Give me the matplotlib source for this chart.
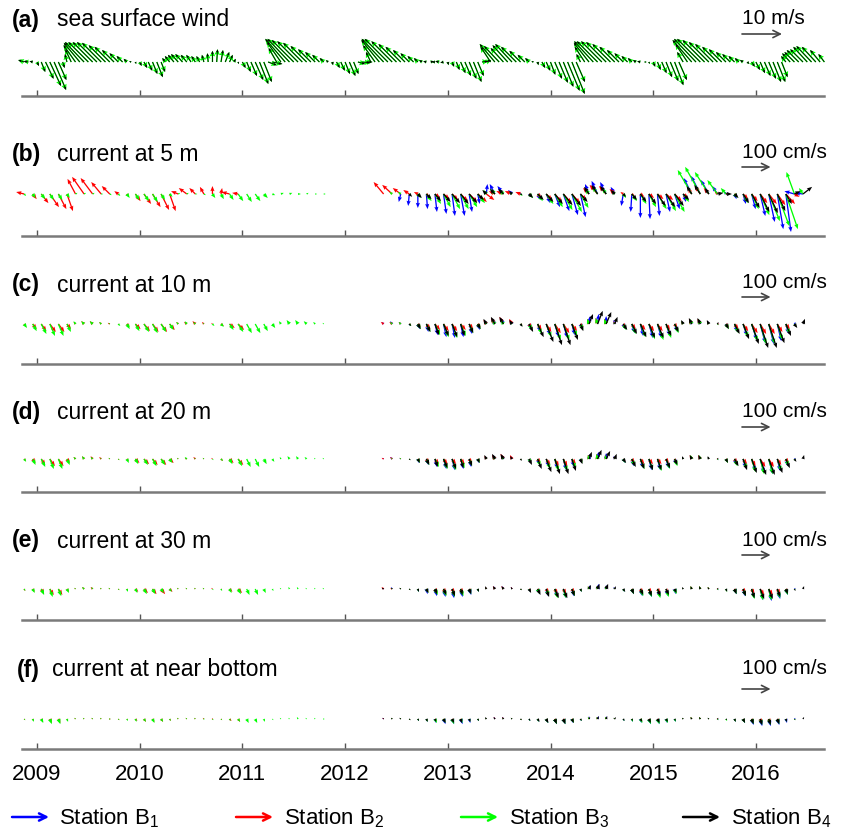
import numpy as np
import matplotlib
matplotlib.use('Agg')
import matplotlib.pyplot as plt

plt.rcParams['font.family'] = ['Liberation Sans', 'DejaVu Sans']
nan = np.nan

# ---------------- labels ----------------
years = [2009, 2010, 2011, 2012, 2013, 2014, 2015, 2016]
panel_tags = ['(a)', '(b)', '(c)', '(d)', '(e)', '(f)']
panel_titles = ['sea surface wind', 'current at 5 m', 'current at 10 m',
                'current at 20 m', 'current at 30 m', 'current at near bottom']
key_values = [10, 100, 100, 100, 100, 100]
key_labels = ['10 m/s', '100 cm/s', '100 cm/s', '100 cm/s', '100 cm/s', '100 cm/s']
station_names = [r'Station B$_{\mathregular{1}}$', r'Station B$_{\mathregular{2}}$',
                 r'Station B$_{\mathregular{3}}$', r'Station B$_{\mathregular{4}}$']
station_colors = ['#0000ff', '#ff0000', '#00ff00', '#000000']

# ---------------- sea surface wind (m/s), half-monthly from mid Nov 2008 ----------------
wind_uv = [
    (-1.5, 0.5), (-1.2, 0.2), (-0.8, 0.2), (0.5, -1.0), (1.0, -2.5), (2.0, -4.2), (2.8, -6.0), (3.0, -7.0),
    (2.0, -4.5), (0.5, -1.5), (-0.5, 2.0), (-1.5, 3.2), (-3.0, 4.2), (-4.0, 4.8), (-4.8, 5.0), (-5.0, 5.0),
    (-5.0, 5.0), (-5.0, 5.0), (-4.8, 4.8), (-4.2, 4.2), (-3.8, 3.8), (-3.0, 3.0), (-2.2, 2.2), (-1.5, 1.5),
    (-0.8, 0.8), (-0.5, 0.2), (0.2, -0.5), (0.5, -1.0), (0.8, -1.5), (1.0, -2.2), (1.2, -3.0), (1.5, -3.8),
    (1.0, -2.5), (-0.8, 1.0), (-1.2, 1.5), (-1.5, 1.8), (-1.8, 2.0), (-1.8, 2.0), (-1.5, 1.8), (-1.2, 1.8),
    (-1.0, 1.5), (-0.8, 1.5), (-0.5, 1.8), (-0.2, 2.2), (0.0, 2.8), (0.2, 3.2), (0.5, 3.0), (1.0, 2.5),
    (0.8, 1.8), (0.5, 0.8), (0.2, -0.5), (0.8, -1.5), (1.0, -2.5), (1.5, -3.5), (2.0, -4.5), (2.2, -5.5),
    (2.0, -5.0), (2.2, -0.8), (2.5, -0.5), (-2.0, 3.5), (-3.5, 5.0), (-5.0, 5.8), (-5.5, 5.8), (-5.5, 5.5),
    (-5.2, 5.2), (-4.8, 4.8), (-4.0, 4.0), (-3.2, 3.2), (-2.5, 2.5), (-1.8, 1.8), (-1.0, 1.0), (-0.5, 0.5),
    (0.2, -0.8), (0.8, -1.5), (1.0, -2.2), (1.2, -3.0), (1.5, -3.5), (1.2, -3.0), (1.8, -0.5), (2.0, -0.2),
    (1.5, 0.0), (-1.2, 2.5), (-3.0, 4.2), (-4.5, 5.5), (-5.5, 5.8), (-5.8, 5.8), (-5.2, 5.2), (-4.5, 4.5),
    (-3.8, 3.8), (-3.0, 3.0), (-2.2, 2.2), (-1.5, 1.5), (-1.0, 1.0), (-0.8, 0.5), (-0.8, 0.2), (0.8, 0.2),
    (-0.8, 0.0), (-1.0, 0.2), (-0.8, -0.2), (0.2, -0.8), (0.5, -1.2), (0.8, -2.0), (1.2, -2.8), (1.5, -3.5),
    (1.8, -4.2), (2.0, -5.0), (1.5, -3.5), (1.5, 0.2), (1.2, 0.5), (-2.5, 3.8), (-3.8, 4.5), (-3.8, 4.0),
    (-3.2, 3.5), (-3.8, 4.2), (-4.2, 4.5), (-3.8, 3.8), (-2.8, 2.8), (-1.8, 1.8), (-1.0, 1.0), (-0.5, 0.2),
    (0.2, -0.8), (0.8, -1.5), (1.0, -2.2), (1.2, -3.2), (1.8, -4.2), (2.2, -5.2), (2.5, -6.2), (3.0, -7.2),
    (3.2, -8.0), (2.2, -5.0), (-1.0, 2.0), (-2.5, 3.8), (-3.8, 4.8), (-4.8, 5.2), (-5.2, 5.2), (-5.2, 5.2),
    (-5.0, 5.0), (-4.5, 4.5), (-3.8, 3.8), (-3.0, 3.0), (-2.2, 2.2), (-1.5, 1.5), (-1.0, 1.0), (-0.8, 0.5),
    (-0.8, 0.2), (0.5, 0.0), (0.2, -0.5), (0.5, -1.2), (0.8, -2.0), (1.2, -2.8), (1.5, -3.8), (2.0, -4.8),
    (2.2, -5.8), (2.0, -4.5), (-1.5, 2.5), (-3.0, 4.5), (-4.8, 5.5), (-5.5, 5.8), (-5.8, 5.8), (-5.5, 5.5),
    (-5.0, 5.0), (-4.5, 4.5), (-3.8, 3.8), (-3.2, 3.2), (-2.5, 2.5), (-2.0, 2.0), (-1.5, 1.5), (-1.0, 1.0),
    (-0.8, 0.5), (0.5, -0.5), (0.8, -1.2), (1.0, -2.0), (1.2, -2.8), (1.5, -3.5), (1.8, -4.2), (2.0, -5.0),
    (2.0, -5.0), (1.5, -3.8), (-1.2, 1.5), (-2.0, 2.2), (-2.5, 2.5), (-3.0, 3.0), (-3.2, 3.2), (-3.5, 3.8),
    (-3.8, 4.0), (-3.5, 3.8), (-2.5, 3.0), (-1.5, 2.0),
]

# ---------------- currents (cm/s), monthly ----------------
# period 1: Nov 2008 onwards (B2, B3); period 2: May 2012 - Jul 2016 (B1..B4)

# 5 m
b2_5m_p1 = [(-28, 7), (14, -18), (25, -32), (32, -46), (28, -53), (21, -60), (-28, 53), (-42, 60), (-42, 56),
            (-35, 42), (-28, 28), (-14, 10), (7, -10), (18, -25), (25, -35), (28, -46), (28, -56), (21, -60),
            (-25, 10), (-28, 21), (-21, 21), (-14, 25), (0, 28), (4, 21), (-28, 7), (-21, 4)]
b3_5m_p1 = [(7, -7), (10, -14), (14, -18), (14, -21), (14, -21), (10, -14), (7, 4), (7, 4), (7, 4), (7, 0), (7, -4), (7, -7),
            (10, -14), (14, -21), (18, -25), (18, -28), (14, -21), (10, -10), (7, 4), (7, 4), (7, 0), (7, -4), (10, -14), (10, -18),
            (14, -21), (18, -25), (18, -28), (18, -25), (14, -14), (10, -4), (10, 4), (10, 4), (10, 0), (7, 4), (7, 0), (7, 0)]
b1_5m_p2 = [(nan, nan), (nan, nan), (-7, -28), (-4, -42), (0, -49), (4, -53), (7, -63), (10, -70), (10, -77), (14, -77), (10, -63), (7, -35),
            (4, 35), (-18, 35), (-21, 28), (-14, 14), (-7, 7), (4, -10), (10, -21), (14, -32), (18, -46), (21, -60), (21, -74), (18, -81),
            (-14, 35), (-21, 46), (-21, 42), (-14, 25), (-7, -42), (-4, -63), (0, -84), (4, -88), (7, -77), (14, -63), (18, -53), (10, -28),
            (-28, 56), (-32, 63), (-28, 49), (-18, 28), (-7, 10), (7, -18), (10, -35), (14, -53), (18, -77), (21, -98), (21, -123), (18, -133),
            (-35, 10), (-28, 4), (nan, nan)]
b2_5m_p2 = [(-35, 42), (-35, 32), (-28, 21), (-21, 14), (-14, 7), (10, -7), (18, -14), (21, -18), (21, -21), (25, -25), (28, -28), (32, -28),
            (28, -21), (-21, 10), (-25, 10), (-25, 10), (-18, 7), (10, -7), (14, -14), (21, -21), (25, -28), (28, -32), (28, -32), (21, -21),
            (-21, 21), (-28, 32), (-25, 28), (-18, 18), (-10, 7), (10, -7), (14, -10), (18, -14), (21, -18), (25, -21), (25, -25), (18, -14),
            (-14, 21), (-18, 28), (-18, 21), (-10, 10), (7, 4), (10, -7), (18, -18), (21, -25), (25, -32), (28, -35), (28, -39), (32, -35),
            (18, -10), (nan, nan), (nan, nan)]
b3_5m_p2 = [(nan, nan), (-10, 7), (-10, 7), (7, -7), (10, -14), (18, -25), (21, -35), (25, -46), (28, -53), (28, -53), (28, -46), (25, -32),
            (-10, 14), (-14, 18), (-14, 14), (-10, 7), (7, -7), (14, -14), (18, -25), (25, -35), (28, -46), (32, -56), (35, -63), (28, -49),
            (-14, 18), (-18, 25), (-14, 21), (-10, 10), (10, -14), (18, -25), (21, -35), (25, -46), (32, -53), (35, -60), (35, -63), (21, -28),
            (-49, 84), (-53, 95), (-49, 77), (-35, 49), (-18, 21), (10, -14), (18, -32), (25, -53), (32, -74), (39, -95), (42, -112), (42, -123),
            (-28, 77), (-14, 21), (nan, nan)]
b4_5m_p2 = [(nan, nan), (nan, nan), (nan, nan), (10, -10), (14, -14), (18, -18), (21, -25), (25, -28), (28, -32), (28, -35), (28, -32), (21, -21),
            (-14, 14), (-18, 18), (-18, 18), (-10, 10), (7, -4), (14, -14), (21, -21), (25, -28), (28, -35), (32, -39), (32, -42), (25, -28),
            (-18, 25), (-21, 32), (-21, 28), (-14, 14), (10, -10), (18, -21), (21, -28), (25, -35), (28, -42), (32, -46), (32, -42), (21, -21),
            (-18, 28), (-21, 32), (-14, 21), (21, 4), (21, 0), (14, -14), (21, -32), (28, -49), (32, -63), (32, -67), (28, -60), (21, -35),
            (21, 10), (32, 25), (nan, nan)]

# 10 m
b2_10m_p1 = [(7, -10), (14, -18), (18, -25), (21, -28), (21, -28), (14, -18), (-7, 7), (-10, 10), (-10, 10), (-7, 7), (-7, 4), (4, -4),
             (10, -10), (18, -18), (21, -25), (21, -28), (21, -28), (18, -21), (-7, 7), (-10, 7), (-10, 10), (-7, 7), (-4, 4), (10, -7),
             (18, -14), (21, -21)]
b3_10m_p1 = [(10, -14), (14, -25), (18, -35), (18, -42), (18, -42), (14, -28), (-7, 10), (-10, 10), (-10, 10), (-7, 7), (-4, 4), (7, -7),
             (10, -18), (14, -25), (18, -28), (18, -32), (18, -28), (14, -21), (-7, 7), (-7, 10), (-7, 7), (-4, 4), (7, -7), (10, -10),
             (14, -21), (18, -28), (18, -32), (18, -32), (14, -25), (10, -14), (-7, 10), (-10, 14), (-10, 14), (-10, 10), (-7, 7), (-4, 4)]
b1_10m_p2 = [(-7, 7), (-7, 10), (-7, 7), (4, -7), (7, -18), (7, -28), (10, -39), (10, -46), (10, -49), (10, -46), (10, -35), (7, -21),
             (-7, 10), (-10, 18), (-10, 21), (-7, 14), (4, -7), (7, -18), (10, -28), (14, -39), (14, -46), (14, -49), (10, -39), (7, -18),
             (4, 28), (4, 35), (0, 28), (-4, 14), (7, -18), (10, -32), (10, -42), (14, -49), (14, -49), (14, -42), (10, -28), (-4, 10),
             (-7, 14), (-7, 14), (-4, 10), (4, -4), (7, -14), (10, -28), (14, -42), (18, -56), (18, -67), (18, -70), (14, -60), (10, -35),
             (4, 7), (nan, nan), (nan, nan)]
b2_10m_p2 = [(-10, 7), (-10, 7), (-7, 7), (7, -4), (10, -10), (14, -18), (18, -21), (18, -25), (18, -25), (18, -21), (14, -18), (10, -10),
             (-10, 14), (-14, 21), (-14, 25), (-10, 18), (7, -4), (10, -14), (14, -21), (18, -28), (21, -32), (21, -32), (18, -25), (10, -10),
             (-7, 18), (-7, 21), (-7, 18), (-4, 10), (10, -10), (14, -18), (18, -21), (18, -25), (18, -25), (14, -21), (10, -14), (-7, 10),
             (-10, 18), (-10, 18), (-7, 10), (7, 0), (10, -10), (14, -18), (18, -25), (21, -32), (21, -35), (21, -35), (18, -28), (14, -18),
             (nan, nan), (nan, nan), (nan, nan)]
b3_10m_p2 = [(nan, nan), (-7, 7), (-7, 7), (7, -7), (10, -18), (14, -28), (18, -39), (18, -46), (18, -49), (18, -42), (14, -32), (10, -18),
             (-7, 10), (-10, 14), (-10, 14), (-7, 7), (7, -7), (10, -21), (14, -35), (18, -46), (21, -56), (21, -56), (18, -42), (10, -21),
             (-7, 18), (-7, 21), (-7, 18), (-4, 7), (10, -21), (14, -35), (18, -46), (21, -53), (21, -56), (18, -49), (14, -32), (-7, 10),
             (-7, 18), (-7, 18), (-7, 10), (4, -4), (10, -18), (14, -32), (18, -46), (21, -60), (21, -70), (21, -70), (18, -56), (14, -35),
             (7, -10), (nan, nan), (nan, nan)]
b4_10m_p2 = [(nan, nan), (nan, nan), (nan, nan), (7, -7), (10, -18), (14, -28), (14, -39), (18, -42), (18, -46), (14, -42), (14, -32), (10, -18),
             (-10, 18), (-14, 25), (-14, 25), (-10, 14), (7, -10), (14, -28), (21, -46), (25, -63), (25, -74), (25, -74), (21, -56), (10, -25),
             (14, 35), (18, 46), (18, 42), (10, 25), (14, -21), (18, -35), (21, -46), (21, -49), (21, -49), (18, -42), (14, -28), (-7, 14),
             (-10, 21), (-10, 21), (-7, 14), (4, 7), (10, -18), (18, -35), (21, -53), (25, -70), (28, -84), (28, -84), (25, -67), (18, -42),
             (10, -14), (7, 18), (nan, nan)]

# 20 m
b2_20m_p1 = [(7, -7), (10, -14), (14, -21), (18, -25), (18, -25), (10, -14), (-7, 7), (-7, 10), (-7, 10), (-7, 7), (-4, 4), (4, -4),
             (7, -7), (14, -14), (18, -18), (18, -21), (18, -21), (14, -14), (-4, 4), (-7, 4), (-7, 7), (-4, 4), (-4, 4), (7, -7),
             (14, -14), (18, -21)]
b3_20m_p1 = [(7, -10), (10, -21), (14, -28), (14, -35), (14, -35), (10, -21), (-7, 7), (-7, 10), (-7, 7), (-4, 4), (-4, 4), (4, -4),
             (7, -14), (10, -18), (14, -21), (14, -25), (14, -21), (10, -14), (-4, 4), (-7, 7), (-4, 4), (-4, 4), (4, -4), (7, -7),
             (10, -18), (14, -25), (14, -28), (14, -28), (10, -18), (7, -10), (-4, 7), (-7, 10), (-7, 10), (-7, 7), (-4, 4), (-4, 4)]
b1_20m_p2 = [(-4, 4), (-7, 7), (-4, 4), (4, -4), (4, -14), (7, -21), (7, -28), (10, -35), (10, -39), (10, -35), (7, -28), (4, -14),
             (-4, 7), (-7, 14), (-7, 14), (-4, 10), (4, -4), (7, -14), (7, -21), (10, -28), (10, -35), (10, -39), (7, -28), (4, -14),
             (4, 18), (4, 25), (0, 21), (-4, 10), (7, -14), (7, -25), (10, -32), (10, -39), (10, -39), (10, -32), (7, -21), (-4, 7),
             (-4, 10), (-4, 10), (-4, 7), (4, -4), (4, -10), (7, -21), (10, -32), (14, -42), (14, -49), (14, -53), (10, -42), (7, -25),
             (4, 4), (nan, nan), (nan, nan)]
b2_20m_p2 = [(-7, 4), (-7, 7), (-4, 4), (4, -4), (7, -7), (10, -14), (14, -18), (14, -18), (14, -18), (14, -18), (10, -14), (7, -7),
             (-7, 10), (-10, 14), (-10, 18), (-7, 14), (4, -4), (7, -10), (10, -14), (14, -21), (14, -25), (14, -25), (14, -18), (7, -7),
             (-4, 14), (-4, 18), (-4, 14), (-4, 7), (7, -7), (10, -14), (14, -18), (14, -18), (14, -18), (10, -14), (7, -10), (-4, 7),
             (-7, 14), (-7, 14), (-4, 7), (4, 0), (7, -7), (10, -14), (14, -18), (14, -25), (18, -28), (18, -28), (14, -21), (10, -14),
             (nan, nan), (nan, nan), (nan, nan)]
b3_20m_p2 = [(nan, nan), (-4, 4), (-4, 4), (4, -4), (7, -14), (10, -21), (14, -28), (14, -35), (14, -39), (14, -32), (10, -25), (7, -14),
             (-4, 7), (-7, 10), (-7, 10), (-4, 4), (4, -4), (7, -14), (10, -25), (14, -35), (14, -42), (14, -42), (14, -32), (7, -14),
             (-4, 14), (-4, 18), (-4, 14), (-4, 4), (7, -14), (10, -25), (14, -35), (14, -39), (14, -42), (14, -35), (10, -25), (-4, 7),
             (-4, 14), (-4, 14), (-4, 7), (4, -4), (7, -14), (10, -25), (14, -35), (14, -46), (14, -53), (14, -53), (14, -42), (10, -25),
             (4, -7), (nan, nan), (nan, nan)]
b4_20m_p2 = [(nan, nan), (nan, nan), (nan, nan), (4, -4), (7, -14), (10, -21), (10, -28), (14, -32), (14, -35), (10, -32), (10, -25), (7, -14),
             (-7, 14), (-10, 18), (-10, 18), (-7, 10), (4, -7), (10, -21), (14, -35), (18, -46), (18, -53), (18, -53), (14, -42), (7, -18),
             (10, 25), (14, 32), (14, 28), (7, 18), (10, -14), (14, -28), (14, -35), (14, -39), (14, -39), (14, -32), (10, -21), (-4, 10),
             (-7, 14), (-7, 14), (-4, 10), (4, 4), (7, -14), (14, -25), (14, -39), (18, -49), (21, -56), (21, -56), (18, -49), (14, -32),
             (7, -10), (4, 14), (nan, nan)]

# 30 m
b2_30m_p1 = [(4, -7), (7, -10), (10, -18), (14, -21), (14, -21), (7, -10), (-4, 4), (-7, 7), (-7, 7), (-4, 4), (-4, 4), (4, -4),
             (4, -7), (10, -10), (14, -14), (14, -18), (14, -18), (10, -10), (-4, 4), (-4, 4), (-4, 4), (-4, 4), (-4, 4), (4, -4),
             (10, -10), (14, -14)]
b3_30m_p1 = [(4, -7), (7, -14), (10, -21), (10, -28), (10, -25), (7, -14), (-4, 4), (-7, 7), (-4, 7), (-4, 4), (-4, 4), (4, -4),
             (4, -10), (7, -14), (10, -18), (10, -18), (10, -14), (7, -10), (-4, 4), (-4, 4), (-4, 4), (-4, 4), (4, -4), (4, -7),
             (7, -14), (10, -18), (10, -21), (10, -21), (7, -14), (4, -7), (-4, 4), (-4, 7), (-4, 7), (-4, 4), (-4, 4), (-4, 4)]
b1_30m_p2 = [(-4, 4), (-4, 7), (-4, 4), (4, -4), (4, -10), (4, -18), (7, -25), (7, -28), (7, -32), (7, -28), (7, -21), (4, -10),
             (-4, 4), (-4, 10), (-4, 10), (-4, 7), (4, -4), (4, -10), (7, -18), (7, -25), (10, -28), (10, -32), (7, -25), (4, -10),
             (4, 14), (4, 18), (0, 14), (-4, 7), (4, -10), (7, -18), (7, -25), (10, -28), (10, -28), (7, -25), (4, -18), (-4, 4),
             (-4, 7), (-4, 7), (-4, 4), (4, -4), (4, -7), (7, -18), (7, -25), (10, -32), (10, -39), (10, -42), (10, -35), (7, -21),
             (4, 4), (nan, nan), (nan, nan)]
b2_30m_p2 = [(-7, 7), (-7, 4), (-4, 4), (4, -4), (4, -7), (7, -10), (10, -14), (10, -14), (10, -14), (10, -14), (7, -10), (4, -7),
             (-4, 7), (-7, 10), (-7, 10), (-4, 7), (4, -4), (7, -7), (7, -10), (10, -14), (10, -18), (10, -18), (10, -14), (4, -7),
             (-4, 10), (-4, 10), (-4, 10), (-4, 4), (4, -7), (7, -10), (10, -14), (10, -14), (10, -14), (7, -10), (4, -7), (-4, 4),
             (-4, 10), (-4, 10), (-4, 7), (4, 0), (4, -4), (7, -10), (10, -14), (10, -18), (14, -21), (14, -21), (10, -18), (7, -10),
             (nan, nan), (nan, nan), (nan, nan)]
b3_30m_p2 = [(nan, nan), (-4, 4), (-4, 4), (4, -4), (4, -10), (7, -14), (10, -21), (10, -25), (10, -28), (10, -25), (7, -18), (4, -10),
             (-4, 4), (-4, 7), (-4, 7), (-4, 4), (4, -4), (4, -10), (7, -18), (10, -25), (10, -32), (10, -32), (10, -25), (4, -10),
             (-4, 10), (-4, 10), (-4, 10), (-4, 4), (4, -10), (7, -18), (10, -25), (10, -28), (10, -32), (10, -28), (7, -18), (-4, 4),
             (-4, 10), (-4, 10), (-4, 7), (4, -4), (4, -10), (7, -18), (10, -25), (10, -35), (10, -39), (10, -39), (10, -32), (7, -21),
             (4, -4), (nan, nan), (nan, nan)]
b4_30m_p2 = [(-7, 4), (-4, 4), (-4, 4), (4, -4), (4, -10), (7, -14), (7, -18), (10, -21), (10, -25), (7, -21), (7, -18), (4, -10),
             (-4, 10), (-7, 10), (-7, 10), (-4, 7), (4, -4), (7, -14), (10, -21), (10, -28), (14, -32), (14, -32), (10, -25), (4, -10),
             (7, 14), (7, 18), (7, 18), (4, 10), (7, -10), (7, -18), (10, -21), (10, -25), (10, -25), (10, -21), (7, -14), (-4, 7),
             (-4, 10), (-4, 10), (-4, 7), (4, 4), (4, -10), (7, -18), (10, -25), (10, -32), (14, -35), (14, -35), (10, -28), (7, -18),
             (4, -7), (4, 10), (nan, nan)]

# near bottom
b2_bot_p1 = [(4, -4), (4, -7), (7, -10), (7, -14), (7, -14), (4, -7), (-4, 4), (-4, 4), (-4, 4), (-4, 4), (-4, 0), (4, -4),
             (4, -4), (7, -7), (7, -10), (7, -10), (7, -10), (4, -7), (-4, 4), (-4, 4), (-4, 4), (-4, 4), (-4, 0), (4, -4),
             (7, -7), (7, -10)]
b3_bot_p1 = [(4, -4), (4, -10), (7, -14), (7, -18), (7, -18), (4, -10), (-4, 4), (-4, 4), (-4, 4), (-4, 4), (-4, 0), (4, -4),
             (4, -7), (4, -10), (7, -10), (7, -14), (7, -10), (4, -7), (-4, 4), (-4, 4), (-4, 4), (-4, 0), (4, -4), (4, -4),
             (4, -7), (7, -10), (7, -14), (7, -14), (4, -10), (4, -4), (-4, 4), (-4, 4), (-4, 7), (-4, 4), (-4, 4), (-4, 0)]
b1_bot_p2 = [(-4, 4), (-4, 4), (-4, 4), (4, -4), (4, -7), (4, -10), (4, -14), (7, -18), (7, -18), (7, -18), (4, -14), (4, -7),
             (-4, 4), (-4, 7), (-4, 7), (-4, 4), (4, -4), (4, -7), (4, -10), (7, -14), (7, -18), (7, -18), (4, -14), (4, -7),
             (0, 10), (4, 10), (0, 10), (-4, 4), (4, -7), (4, -10), (4, -14), (7, -18), (7, -18), (4, -14), (4, -10), (-4, 4),
             (-4, 4), (-4, 4), (-4, 4), (4, -4), (4, -4), (4, -10), (7, -14), (7, -21), (7, -25), (7, -25), (7, -21), (4, -14),
             (4, 4), (nan, nan), (nan, nan)]
b2_bot_p2 = [(-4, 4), (-4, 4), (-4, 4), (4, -4), (4, -4), (4, -7), (7, -7), (7, -10), (7, -10), (7, -7), (4, -7), (4, -4),
             (-4, 4), (-4, 7), (-4, 7), (-4, 4), (4, -4), (4, -4), (4, -7), (7, -10), (7, -10), (7, -10), (7, -7), (4, -4),
             (-4, 7), (-4, 7), (-4, 7), (-4, 4), (4, -4), (4, -7), (7, -7), (7, -10), (7, -10), (4, -7), (4, -4), (-4, 4),
             (-4, 7), (-4, 7), (-4, 4), (4, 0), (4, -4), (4, -7), (7, -10), (7, -10), (7, -14), (7, -14), (7, -10), (4, -7),
             (nan, nan), (nan, nan), (nan, nan)]
b3_bot_p2 = [(nan, nan), (-4, 4), (-4, 4), (4, -4), (4, -7), (4, -10), (7, -14), (7, -14), (7, -18), (7, -14), (4, -10), (4, -7),
             (-4, 4), (-4, 4), (-4, 4), (-4, 4), (4, -4), (4, -7), (4, -10), (7, -14), (7, -18), (7, -18), (7, -14), (4, -7),
             (-4, 7), (-4, 7), (-4, 7), (-4, 4), (4, -7), (4, -10), (7, -14), (7, -18), (7, -18), (7, -14), (4, -10), (-4, 4),
             (-4, 7), (-4, 7), (-4, 4), (4, -4), (4, -7), (4, -10), (7, -14), (7, -18), (7, -21), (7, -21), (7, -18), (4, -10),
             (4, -4), (nan, nan), (nan, nan)]
b4_bot_p2 = [(-4, 4), (-4, 4), (-4, 4), (4, -4), (4, -7), (4, -10), (4, -10), (7, -14), (7, -14), (4, -14), (4, -10), (4, -7),
             (-4, 7), (-4, 7), (-4, 7), (-4, 4), (4, -4), (4, -7), (7, -10), (7, -14), (7, -18), (7, -18), (7, -14), (4, -7),
             (4, 7), (4, 10), (4, 10), (4, 7), (4, -7), (4, -7), (7, -10), (7, -14), (7, -14), (7, -10), (4, -7), (-4, 4),
             (-4, 7), (-4, 7), (-4, 4), (4, 4), (4, -4), (4, -10), (7, -14), (7, -18), (7, -21), (7, -21), (7, -18), (4, -10),
             (4, -4), (4, 7), (nan, nan)]

current_panels = [
    (b2_5m_p1, b3_5m_p1, b1_5m_p2, b2_5m_p2, b3_5m_p2, b4_5m_p2),
    (b2_10m_p1, b3_10m_p1, b1_10m_p2, b2_10m_p2, b3_10m_p2, b4_10m_p2),
    (b2_20m_p1, b3_20m_p1, b1_20m_p2, b2_20m_p2, b3_20m_p2, b4_20m_p2),
    (b2_30m_p1, b3_30m_p1, b1_30m_p2, b2_30m_p2, b3_30m_p2, b4_30m_p2),
    (b2_bot_p1, b3_bot_p1, b1_bot_p2, b2_bot_p2, b3_bot_p2, b4_bot_p2),
]

# time axes (decimal years)
t_wind = 2008.875 + np.arange(len(wind_uv)) / 24.0
t_p1 = 2008.875 + np.arange(36) / 12.0
t_p2 = 2012.375 + np.arange(51) / 12.0

# ---------------- layout (pixels from top) ----------------
W, H = 841, 837
X0, X1 = 22, 824
axis_y = [97, 237, 365, 493, 621, 750]
base_y = [63, 195, 325, 460, 590, 720]
top_y = [35, 165, 300, 430, 560, 695]
title_y = [20, 155, 285, 413, 541, 670]
tag_x = [12, 12, 12, 12, 12, 17]
title_x = [57, 57, 57, 57, 57, 52]
key_text_y = [18, 152, 283, 412, 541, 669]
key_arrow_y = [35, 168, 298, 428, 556, 690]

WIND_SCALE = 25.0    # m/s per inch
CUR_SCALE = 350.0    # cm/s per inch

fig = plt.figure(figsize=(W / 100, H / 100), dpi=100)


def sticks(ax, t, uv, color, scale, width=0.013, hw=3.2, zorder=2):
    uv = np.array(uv, dtype=float)
    t = np.asarray(t)[:len(uv)]
    ok = ~np.isnan(uv[:, 0])
    ax.quiver(t[ok], np.zeros(ok.sum()), uv[ok, 0], uv[ok, 1], color=color,
              angles='uv', scale_units='inches', scale=scale, units='inches',
              width=width, headwidth=hw, headlength=4.0, headaxislength=3.6,
              zorder=zorder, clip_on=False)


for i in range(6):
    ax = fig.add_axes([X0 / W, 1 - axis_y[i] / H, (X1 - X0) / W, (axis_y[i] - top_y[i]) / H])
    ax.set_xlim(2008.854, 2016.663)
    ax.set_ylim(-(axis_y[i] - base_y[i]), base_y[i] - top_y[i])
    for s in ['top', 'left', 'right']:
        ax.spines[s].set_visible(False)
    ax.spines['bottom'].set_color('#7a7a7a')
    ax.spines['bottom'].set_linewidth(1.8)
    ax.set_yticks([])
    ax.set_xticks(years)
    ax.tick_params(axis='x', direction='in', length=4, width=1, color='#555555',
                   labelsize=16, pad=10)
    if i < 5:
        ax.set_xticklabels([])
    else:
        ax.set_xticklabels([str(y) for y in years])
    ax.patch.set_alpha(0)

    if i == 0:
        # wind: same reanalysis wind at each station
        sticks(ax, t_wind, wind_uv, station_colors[2], WIND_SCALE, width=0.014, hw=4.0, zorder=3)
        sticks(ax, t_wind, wind_uv, station_colors[3], WIND_SCALE, width=0.008, hw=3.4, zorder=4)
        key_len = key_values[i] / WIND_SCALE * 100
    else:
        b2p1, b3p1, b1p2, b2p2, b3p2, b4p2 = current_panels[i - 1]
        sticks(ax, t_p1, b2p1, station_colors[1], CUR_SCALE, zorder=2)
        sticks(ax, t_p1, b3p1, station_colors[2], CUR_SCALE, zorder=3)
        sticks(ax, t_p2, b1p2, station_colors[0], CUR_SCALE, zorder=2)
        sticks(ax, t_p2, b2p2, station_colors[1], CUR_SCALE, zorder=3)
        sticks(ax, t_p2, b3p2, station_colors[2], CUR_SCALE, zorder=4)
        sticks(ax, t_p2, b4p2, station_colors[3], CUR_SCALE, zorder=5)
        key_len = key_values[i] / CUR_SCALE * 100

    fig.text(tag_x[i] / W, 1 - title_y[i] / H, panel_tags[i], fontsize=16.5,
             fontweight='bold', va='center', ha='left')
    fig.text(title_x[i] / W, 1 - title_y[i] / H, panel_titles[i], fontsize=16.5,
             va='center', ha='left')
    fig.text(742 / W, 1 - key_text_y[i] / H, key_labels[i], fontsize=15,
             va='center', ha='left')
    fig.add_artist(matplotlib.patches.FancyArrowPatch(
        (742, H - key_arrow_y[i]), (742 + key_len, H - key_arrow_y[i]),
        transform=None, arrowstyle='->', mutation_scale=13, color='#444444', lw=1.2,
        shrinkA=0, shrinkB=0))

# legend
leg_arrow_x = [12, 236, 461, 683]
leg_text_x = [59, 284, 509, 731]
for j in range(4):
    fig.add_artist(matplotlib.patches.FancyArrowPatch(
        (leg_arrow_x[j], H - 818), (leg_arrow_x[j] + 37, H - 818),
        transform=None, arrowstyle='->', mutation_scale=13, color=station_colors[j], lw=1.8,
        shrinkA=0, shrinkB=0))
    fig.text(leg_text_x[j] / W, 1 - 818 / H, station_names[j], fontsize=16,
             va='center', ha='left')

fig.savefig('out.png', dpi=100)
